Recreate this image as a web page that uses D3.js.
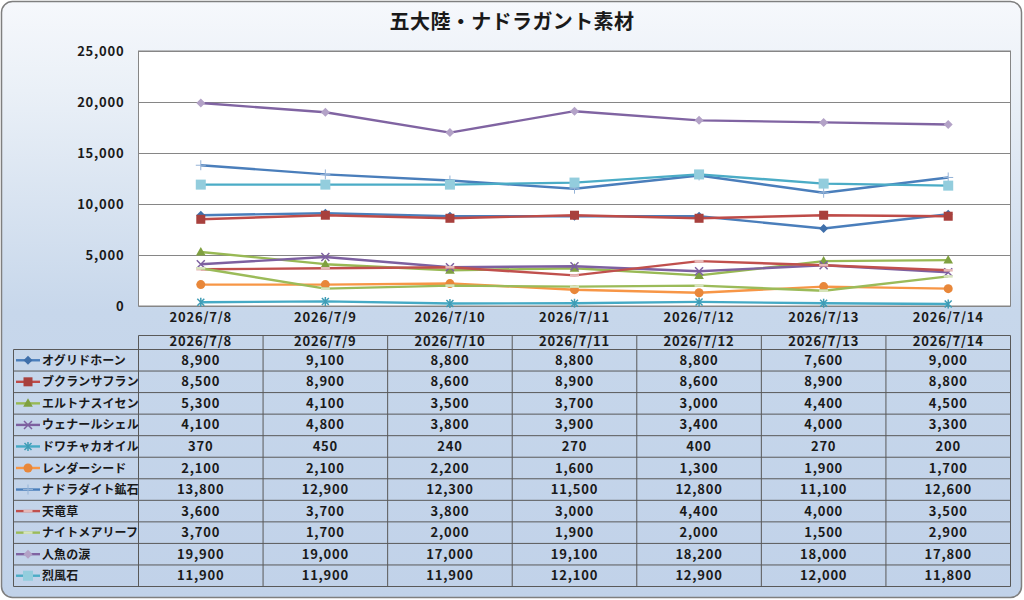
<!DOCTYPE html>
<html>
<head>
<meta charset="utf-8">
<script src="https://cdn.jsdelivr.net/npm/d3@7"></script>
<style>
  body { margin: 0; background: #fff; }
  svg { display: block; }
  text { font-family: 'Noto Sans CJK JP', 'Noto Sans', sans-serif; fill: #1a1a1a; }
  .tick-label { font-size: 13px; font-weight: bold; letter-spacing: 0.8px; }
  .cell { font-size: 13px; font-weight: bold; letter-spacing: 0.8px; }
  .legend-label { font-size: 12px; font-weight: bold; letter-spacing: 0.1px; }
</style>
</head>
<body>
<svg id="chart" width="1024" height="600"></svg>
<script>
// Chart data
const dates = ['2026/7/8', '2026/7/9', '2026/7/10', '2026/7/11', '2026/7/12', '2026/7/13', '2026/7/14'];
const seriesNames = ['オグリドホーン', 'ブクランサフラン', 'エルトナスイセン', 'ウェナールシェル', 'ドワチャカオイル',
  'レンダーシード', 'ナドラダイト鉱石', '天竜草', 'ナイトメアリーフ', '人魚の涙', '烈風石'];
const yTicks = [0, 5000, 10000, 15000, 20000, 25000];

const oguridoHorn = [8900, 9100, 8800, 8800, 8800, 7600, 9000];
const bukuranSaffron = [8500, 8900, 8600, 8900, 8600, 8900, 8800];
const eltonaSuisen = [5300, 4100, 3500, 3700, 3000, 4400, 4500];
const wenarShell = [4100, 4800, 3800, 3900, 3400, 4000, 3300];
const dwachakaOil = [370, 450, 240, 270, 400, 270, 200];
const renderSeed = [2100, 2100, 2200, 1600, 1300, 1900, 1700];
const nadraditeOre = [13800, 12900, 12300, 11500, 12800, 11100, 12600];
const tenryuSou = [3600, 3700, 3800, 3000, 4400, 4000, 3500];
const nightmareLeaf = [3700, 1700, 2000, 1900, 2000, 1500, 2900];
const mermaidTear = [19900, 19000, 17000, 19100, 18200, 18000, 17800];
const reppuuSeki = [11900, 11900, 11900, 12100, 12900, 12000, 11800];

const seriesValues = [oguridoHorn, bukuranSaffron, eltonaSuisen, wenarShell, dwachakaOil,
  renderSeed, nadraditeOre, tenryuSou, nightmareLeaf, mermaidTear, reppuuSeki];

// Line colour, marker shape and marker colour per series (Excel 2007 look)
const seriesStyles = [
  { line: '#4a7ebb', marker: 'diamond', mark: '#3f6faa' },
  { line: '#be4b48', marker: 'square', mark: '#a8403d' },
  { line: '#98b954', marker: 'triangle', mark: '#7fa040' },
  { line: '#7d60a0', marker: 'x', mark: '#7d60a0' },
  { line: '#46aac5', marker: 'star', mark: '#3f9cb5' },
  { line: '#f79646', marker: 'circle', mark: '#e8873a' },
  { line: '#4a7ebb', marker: 'plus', mark: '#95b3d7' },
  { line: '#c0504d', marker: 'dash', mark: '#e6b9b8' },
  { line: '#9bbb59', marker: 'dash', mark: '#d7e4bd' },
  { line: '#8064a2', marker: 'diamond', mark: '#b3a2c7' },
  { line: '#4bacc6', marker: 'bigsquare', mark: '#93cddd' },
];

const series = seriesNames.map((name, i) => ({
  name,
  values: seriesValues[i],
  style: seriesStyles[i],
}));

const svg = d3.select('#chart');

// Background with rounded border and gradient
const defs = svg.append('defs');
const grad = defs.append('linearGradient')
  .attr('id', 'bg-grad')
  .attr('x1', 0).attr('y1', 0).attr('x2', 0).attr('y2', 1);
grad.append('stop').attr('offset', '0%').attr('stop-color', '#f6f8fc');
grad.append('stop').attr('offset', '15%').attr('stop-color', '#eaf0f7');
grad.append('stop').attr('offset', '52%').attr('stop-color', '#c7d7eb');
grad.append('stop').attr('offset', '100%').attr('stop-color', '#c1d2e9');

svg.append('rect')
  .attr('x', 1.5).attr('y', 1.5)
  .attr('width', 1020).attr('height', 596)
  .attr('rx', 11)
  .attr('fill', 'url(#bg-grad)')
  .attr('stroke', '#7f7f7f')
  .attr('stroke-width', 1.5);

// Title
svg.append('text')
  .attr('x', 512)
  .attr('y', 29)
  .attr('text-anchor', 'middle')
  .style('font-size', '20px')
  .style('font-weight', 'bold')
  .style('letter-spacing', '0.4px')
  .text('五大陸・ナドラガント素材');

// Plot area
const plot = { left: 138.5, right: 1010.5, top: 51, bottom: 306 };

const xScale = d3.scaleBand()
  .domain(dates)
  .range([plot.left, plot.right]);

const yScale = d3.scaleLinear()
  .domain([0, 25000])
  .range([plot.bottom, plot.top]);

svg.append('rect')
  .attr('x', plot.left).attr('y', plot.top)
  .attr('width', plot.right - plot.left)
  .attr('height', plot.bottom - plot.top)
  .attr('fill', '#ffffff')
  .attr('stroke', '#868686')
  .attr('stroke-width', 1);

// Gridlines
svg.append('g')
  .selectAll('line')
  .data(yTicks)
  .enter()
  .append('line')
  .attr('x1', plot.left)
  .attr('x2', plot.right)
  .attr('y1', d => Math.round(yScale(d)) + 0.5)
  .attr('y2', d => Math.round(yScale(d)) + 0.5)
  .attr('stroke', '#868686')
  .attr('stroke-width', 1);

// Y axis
const yAxis = svg.append('g')
  .attr('transform', `translate(${plot.left - 14},0)`)
  .call(d3.axisLeft(yScale).tickValues(yTicks).tickFormat(d3.format(',')).tickSize(0).tickPadding(0));
yAxis.select('.domain').remove();
yAxis.selectAll('text').attr('class', 'tick-label').attr('fill', '#1a1a1a');

// X axis labels
const xAxis = svg.append('g')
  .attr('transform', `translate(0,${plot.bottom})`)
  .call(d3.axisBottom(xScale).tickSize(0).tickPadding(7));
xAxis.select('.domain').remove();
xAxis.selectAll('text').attr('class', 'tick-label').attr('fill', '#1a1a1a');

// Marker drawing
function drawMarker(g, type, color) {
  if (type === 'diamond') {
    g.append('path').attr('d', 'M0,-4.5L4.5,0L0,4.5L-4.5,0Z').attr('fill', color);
  } else if (type === 'square') {
    g.append('rect').attr('x', -4.5).attr('y', -4.5).attr('width', 9).attr('height', 9).attr('fill', color);
  } else if (type === 'bigsquare') {
    g.append('rect').attr('x', -5).attr('y', -5).attr('width', 10).attr('height', 10).attr('fill', color);
  } else if (type === 'triangle') {
    g.append('path').attr('d', 'M0,-5L4.8,3.5L-4.8,3.5Z').attr('fill', color);
  } else if (type === 'circle') {
    g.append('circle').attr('r', 4.5).attr('fill', color);
  } else if (type === 'x') {
    g.append('path').attr('d', 'M-4,-4L4,4M-4,4L4,-4')
      .attr('stroke', color).attr('stroke-width', 1.5).attr('fill', 'none');
  } else if (type === 'star') {
    g.append('path').attr('d', 'M-3.5,-3.5L3.5,3.5M-3.5,3.5L3.5,-3.5M0,-4.5L0,4.5')
      .attr('stroke', color).attr('stroke-width', 1.5).attr('fill', 'none');
  } else if (type === 'plus') {
    g.append('path').attr('d', 'M-5,0L5,0M0,-5L0,5')
      .attr('stroke', color).attr('stroke-width', 1).attr('fill', 'none');
  } else if (type === 'dash') {
    g.append('path').attr('d', 'M-4.5,0L4.5,0')
      .attr('stroke', color).attr('stroke-width', 2.5).attr('fill', 'none');
  }
}

// Lines and markers
const xCenter = d => xScale(d) + xScale.bandwidth() / 2;
const line = d3.line()
  .x((d, i) => xCenter(dates[i]))
  .y(d => yScale(d));

const seriesGroups = svg.append('g')
  .selectAll('g')
  .data(series)
  .enter()
  .append('g');

seriesGroups.append('path')
  .attr('d', d => line(d.values))
  .attr('fill', 'none')
  .attr('stroke', d => d.style.line)
  .attr('stroke-width', 2.4)
  .attr('stroke-linejoin', 'round');

seriesGroups.each(function(s) {
  const grp = d3.select(this);
  s.values.forEach((v, i) => {
    const m = grp.append('g')
      .attr('transform', `translate(${xCenter(dates[i])},${yScale(v)})`);
    drawMarker(m, s.style.marker, s.style.mark);
  });
});

// Data table
const table = { left: 13.5, headTop: 335.5, top: 349.5, bottom: 586.5 };
const rowScale = d3.scaleBand()
  .domain(seriesNames)
  .range([table.top, table.bottom]);

const tbl = svg.append('g');

// Header row (dates)
tbl.append('line')
  .attr('x1', plot.left).attr('x2', plot.right)
  .attr('y1', table.headTop).attr('y2', table.headTop)
  .attr('stroke', '#595959');

tbl.selectAll('.head')
  .data(dates)
  .enter()
  .append('text')
  .attr('class', 'cell')
  .attr('x', d => xCenter(d))
  .attr('y', table.headTop + 10.5)
  .attr('text-anchor', 'middle')
  .text(d => d);

// Horizontal row borders
tbl.selectAll('.hline')
  .data(seriesNames.concat(['__end']))
  .enter()
  .append('line')
  .attr('x1', table.left).attr('x2', plot.right)
  .attr('y1', d => d === '__end' ? table.bottom : rowScale(d))
  .attr('y2', d => d === '__end' ? table.bottom : rowScale(d))
  .attr('stroke', '#595959');

// Vertical column borders
const colEdges = dates.map(d => xScale(d)).concat([plot.right]);
tbl.selectAll('.vline')
  .data(colEdges)
  .enter()
  .append('line')
  .attr('x1', d => d).attr('x2', d => d)
  .attr('y1', table.headTop).attr('y2', table.bottom)
  .attr('stroke', '#595959');

tbl.append('line')
  .attr('x1', table.left).attr('x2', table.left)
  .attr('y1', table.top).attr('y2', table.bottom)
  .attr('stroke', '#595959');

// Rows: legend key, name, values
const rows = tbl.selectAll('.row')
  .data(series)
  .enter()
  .append('g')
  .attr('transform', d => `translate(0,${rowScale(d.name) + rowScale.bandwidth() / 2})`);

rows.append('line')
  .attr('x1', 16).attr('x2', 40)
  .attr('y1', 0).attr('y2', 0)
  .attr('stroke', d => d.style.line)
  .attr('stroke-width', 2.4);

rows.each(function(s) {
  const m = d3.select(this).append('g').attr('transform', 'translate(28,0)');
  drawMarker(m, s.style.marker, s.style.mark);
});

rows.append('text')
  .attr('class', 'legend-label')
  .attr('x', 42)
  .attr('y', 4.5)
  .text(d => d.name);

rows.each(function(s) {
  d3.select(this).selectAll('.val')
    .data(s.values)
    .enter()
    .append('text')
    .attr('class', 'cell')
    .attr('x', (v, i) => xCenter(dates[i]))
    .attr('y', 4.5)
    .attr('text-anchor', 'middle')
    .text(v => d3.format(',')(v));
});
</script>
</body>
</html>
